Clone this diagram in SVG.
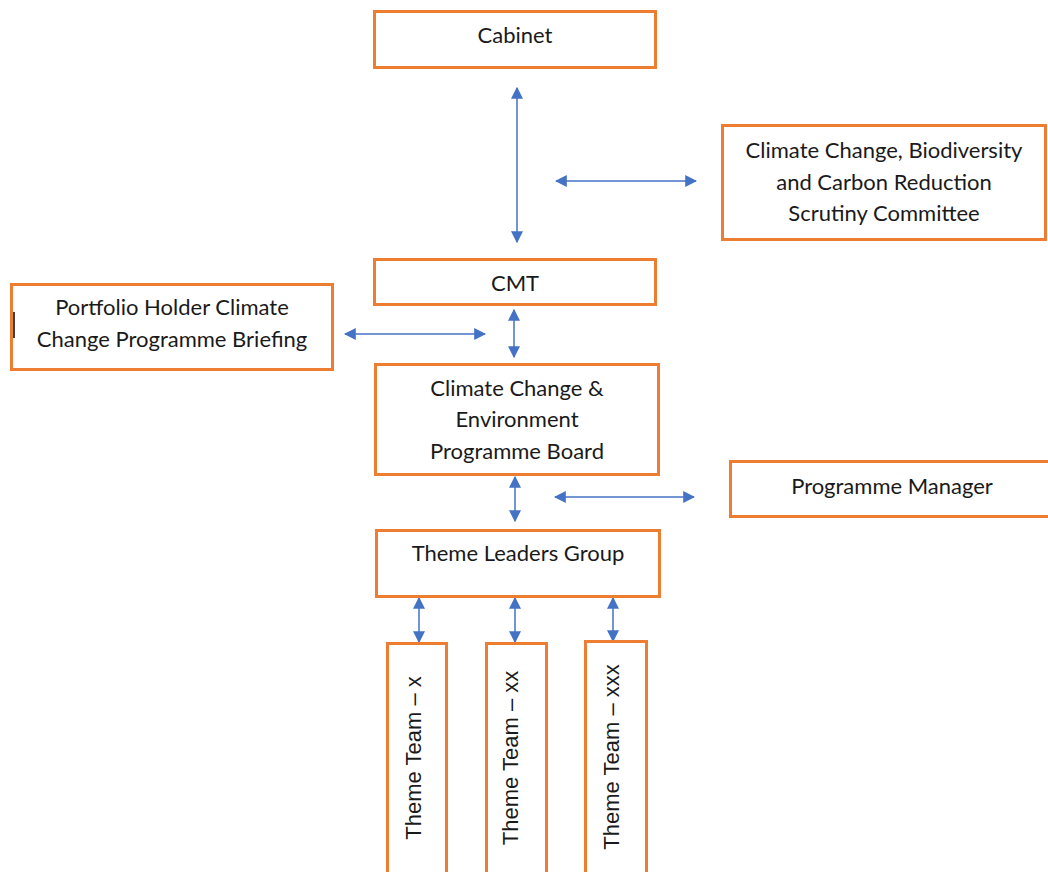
<svg xmlns="http://www.w3.org/2000/svg" width="1048" height="872" viewBox="0 0 1048 872">
<style>
.box{fill:#fff;stroke:#ED7D31;stroke-width:3}
.t{font-family:Lato,"Liberation Sans",sans-serif;font-size:22px;fill:#1a1a1a;text-anchor:middle}
.tt{font-family:"Liberation Sans",Arial,sans-serif;font-size:22px;fill:#1a1a1a;text-anchor:middle}
.c{stroke:#4472C4;stroke-width:1.5;fill:none;marker-start:url(#ah);marker-end:url(#ah)}
</style>
<defs>
<marker id="ah" viewBox="0 0 10 10" refX="9" refY="5" markerWidth="12" markerHeight="12" markerUnits="userSpaceOnUse" orient="auto-start-reverse">
<path d="M0,0 L10,5 L0,10 Z" fill="#4472C4"/>
</marker>
</defs>
<rect width="1048" height="872" fill="#fff"/>
<g id="connectors">
<line class="c" x1="517" y1="88" x2="517" y2="242"/>
<line class="c" x1="556" y1="181" x2="696" y2="181"/>
<line class="c" x1="514" y1="310" x2="514" y2="357"/>
<line class="c" x1="345" y1="334" x2="485" y2="334"/>
<line class="c" x1="515" y1="477" x2="515" y2="521"/>
<line class="c" x1="555" y1="497" x2="694" y2="497"/>
<line class="c" x1="419" y1="598" x2="419" y2="642"/>
<line class="c" x1="515" y1="598" x2="515" y2="642"/>
<line class="c" x1="613" y1="598" x2="613" y2="641"/>
</g>
<g id="cabinet">
<rect class="box" x="374.5" y="11.5" width="281" height="56"/>
<text class="t" x="515" y="43">Cabinet</text>
</g>
<g id="scrutiny">
<rect class="box" x="722.5" y="125.5" width="323" height="114"/>
<text class="t" x="884" y="158">Climate Change, Biodiversity</text>
<text class="t" x="884" y="190">and Carbon Reduction</text>
<text class="t" x="884" y="221">Scrutiny Committee</text>
</g>
<g id="cmt">
<rect class="box" x="374.5" y="259.5" width="281" height="45"/>
<text class="t" x="515" y="291">CMT</text>
</g>
<g id="portfolio">
<rect class="box" x="11.5" y="284.5" width="321" height="85"/>
<text class="t" x="172" y="315">Portfolio Holder Climate</text>
<text class="t" x="172" y="347">Change Programme Briefing</text>
<line x1="14" y1="312" x2="14" y2="338" stroke="#000" stroke-width="1.5"/>
</g>
<g id="board">
<rect class="box" x="375.5" y="364.5" width="283" height="110"/>
<text class="t" x="517" y="396">Climate Change &amp;</text>
<text class="t" x="517" y="427">Environment</text>
<text class="t" x="517" y="459">Programme Board</text>
</g>
<g id="manager">
<rect class="box" x="730.5" y="461.5" width="320" height="55"/>
<text class="t" x="892" y="494">Programme Manager</text>
</g>
<g id="leaders">
<rect class="box" x="376.5" y="530.5" width="283" height="66"/>
<text class="t" x="518" y="561">Theme Leaders Group</text>
</g>
<g id="team1">
<rect class="box" x="387.5" y="643.5" width="59" height="240"/>
<text class="tt" transform="translate(421,758) rotate(-90)">Theme Team – x</text>
</g>
<g id="team2">
<rect class="box" x="486.5" y="643.5" width="60" height="240"/>
<text class="tt" transform="translate(518,758) rotate(-90)">Theme Team – xx</text>
</g>
<g id="team3">
<rect class="box" x="585.5" y="641.5" width="61" height="240"/>
<text class="tt" transform="translate(619,757) rotate(-90)">Theme Team – xxx</text>
</g>
</svg>
